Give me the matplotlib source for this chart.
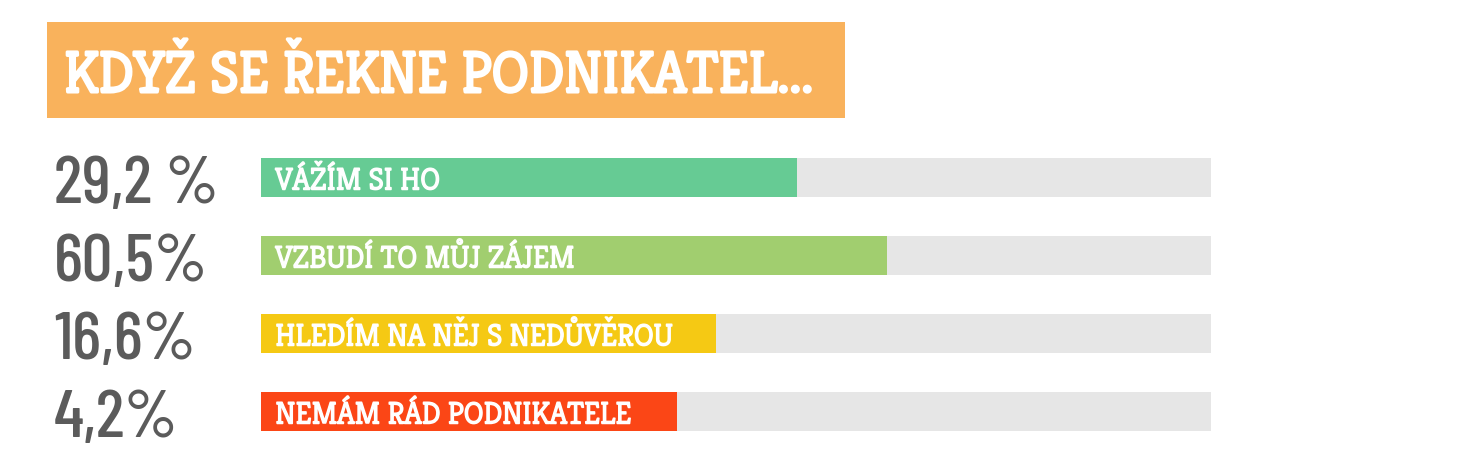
import matplotlib.pyplot as plt
import matplotlib.patheffects as pe
from matplotlib.patches import Rectangle

# data
title = "KDYŽ SE ŘEKNE PODNIKATEL..."
categories = ["VÁŽÍM SI HO", "VZBUDÍ TO MŮJ ZÁJEM", "HLEDÍM NA NĚJ S NEDŮVĚROU", "NEMÁM RÁD PODNIKATELE"]
pct_labels = ["29,2 %", "60,5%", "16,6%", "4,2%"]
bar_fill = [56.4, 65.9, 47.9, 43.8]  # visible fill length, % of track
track = [100, 100, 100, 100]
colors = ["#66CB94", "#A1CE6F", "#F5C914", "#FB4616"]

slab = ["Kreon", "DejaVu Serif"]
narrow = ["Barlow Condensed", "DejaVu Sans"]

W, H = 1457, 472
fig = plt.figure(figsize=(W / 100, H / 100), dpi=100)
fig.patch.set_facecolor("white")


def fit_width(t, target):
    # scale font size so the text is target pixels wide
    fig.canvas.draw()
    w = t.get_window_extent().width
    t.set_fontsize(t.get_fontsize() * target / w)


# title box
fig.add_artist(Rectangle((47 / W, 1 - 118 / H), 798 / W, 96 / H,
                         transform=fig.transFigure, facecolor="#F9B25C", edgecolor="none"))
tt = fig.text(64 / W, 1 - 92 / H, title, color="white", fontsize=40,
              family=slab, weight="bold", va="baseline", ha="left")
fit_width(tt, 750)
# heavier strokes, like the poster font
tt.set_path_effects([pe.withStroke(linewidth=2.2, foreground="white")])

# bars
ax = fig.add_axes([261 / W, 1 - 450 / H, 950 / W, 312 / H])
y = range(len(categories))
ax.barh(y, track, height=39 / 78, color="#E6E6E6")
ax.barh(y, bar_fill, height=39 / 78, color=colors)
ax.set_xlim(0, 100)
ax.set_ylim(3.5, -0.5)
ax.axis("off")

cat_txt, pct_txt = [], []
for i, (cat, p) in enumerate(zip(categories, pct_labels)):
    cat_txt.append(ax.text(1.5, i + 0.16, cat, color="white", fontsize=20, family=slab,
                           weight="medium", va="baseline", ha="left",
                           path_effects=[pe.withStroke(linewidth=1.1, foreground="white")]))
    pct_txt.append(ax.text(-21.8, i + 0.33, p, color="#5B5B5B", fontsize=46, family=narrow,
                           weight="medium", va="baseline", ha="left", clip_on=False))

fit_width(cat_txt[0], 165)
for t in cat_txt[1:]:
    t.set_fontsize(cat_txt[0].get_fontsize())
fit_width(pct_txt[1], 154)
for t in pct_txt:
    t.set_fontsize(pct_txt[1].get_fontsize())

fig.savefig("out.png", dpi=100)
